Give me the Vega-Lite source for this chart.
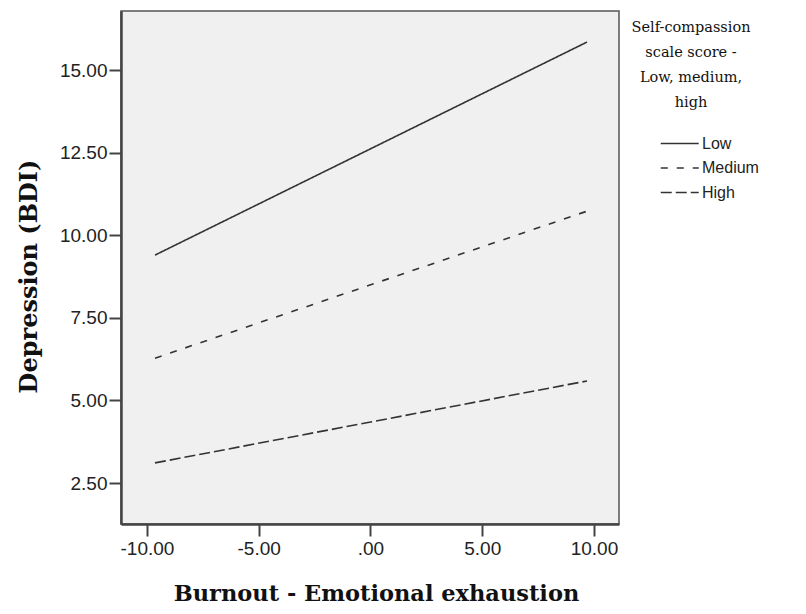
{
  "$schema": "https://vega.github.io/schema/vega-lite/v6.json",
  "autosize": "none",
  "padding": {"left": 121, "top": 11, "right": 187, "bottom": 90},
  "width": 498,
  "height": 513,
  "background": "white",
  "config": {
    "view": {"fill": "#f0f0f0", "stroke": "#555", "strokeWidth": 1.5}
  },
  "data": {
    "values": [
      {"group": "Low", "x": -9.64, "y": 9.40},
      {"group": "Low", "x": 9.69, "y": 15.85},
      {"group": "Medium", "x": -9.64, "y": 6.28},
      {"group": "Medium", "x": 9.69, "y": 10.73},
      {"group": "High", "x": -9.64, "y": 3.11},
      {"group": "High", "x": 9.69, "y": 5.59}
    ]
  },
  "mark": {"type": "line", "color": "#333", "strokeWidth": 1.6},
  "encoding": {
    "x": {
      "field": "x", "type": "quantitative",
      "scale": {"domain": [-11.16, 11.12], "nice": false, "zero": false},
      "axis": {
        "title": "Burnout - Emotional exhaustion",
        "values": [-10, -5, 0, 5, 10],
        "labelExpr": "datum.value == 0 ? '.00' : (datum.value < 0 ? '-' + format(-datum.value, '.2f') : format(datum.value, '.2f'))",
        "grid": false, "domainColor": "#444", "domainWidth": 2.5,
        "tickColor": "#444", "tickWidth": 2, "tickSize": 12,
        "labelFont": "Liberation Sans", "labelFontSize": 19, "labelColor": "#222", "labelPadding": 3,
        "titleFont": "DejaVu Serif", "titleFontSize": 22.5, "titleFontWeight": "bold", "titleColor": "#111",
        "titlePadding": 24, "titleX": 255
      }
    },
    "y": {
      "field": "y", "type": "quantitative",
      "scale": {"domain": [1.26, 16.79], "nice": false, "zero": false},
      "axis": {
        "title": "Depression (BDI)",
        "values": [2.5, 5, 7.5, 10, 12.5, 15],
        "format": ".2f",
        "grid": false, "domainColor": "#444", "domainWidth": 2.5,
        "tickColor": "#444", "tickWidth": 2, "tickSize": 12,
        "labelFont": "Liberation Sans", "labelFontSize": 19, "labelColor": "#222", "labelPadding": 2,
        "titleFont": "DejaVu Serif", "titleFontSize": 24, "titleFontWeight": "bold", "titleColor": "#111",
        "titlePadding": 18, "titleY": 265
      }
    },
    "strokeDash": {
      "field": "group", "type": "nominal",
      "scale": {"domain": ["Low", "Medium", "High"], "range": [[1, 0], [7, 9], [11, 4]]},
      "legend": {
        "title": ["Self-compassion", "scale score -", "Low, medium,", "high"],
        "orient": "none", "legendX": 502, "legendY": 10,
        "titleFont": "DejaVu Serif", "titleFontSize": 14.5, "titleFontWeight": "normal", "titleColor": "#111",
        "titleAnchor": "middle", "titleAlign": "center", "titleLineHeight": 25, "titlePadding": 20,
        "symbolType": "M-1,0H2.1", "symbolSize": 600, "symbolStrokeColor": "#333", "symbolStrokeWidth": 1.5,
        "symbolOffset": 37,
        "labelFont": "Liberation Sans", "labelFontSize": 16, "labelColor": "#222", "labelOffset": 16,
        "rowPadding": 3.5
      }
    }
  }
}
